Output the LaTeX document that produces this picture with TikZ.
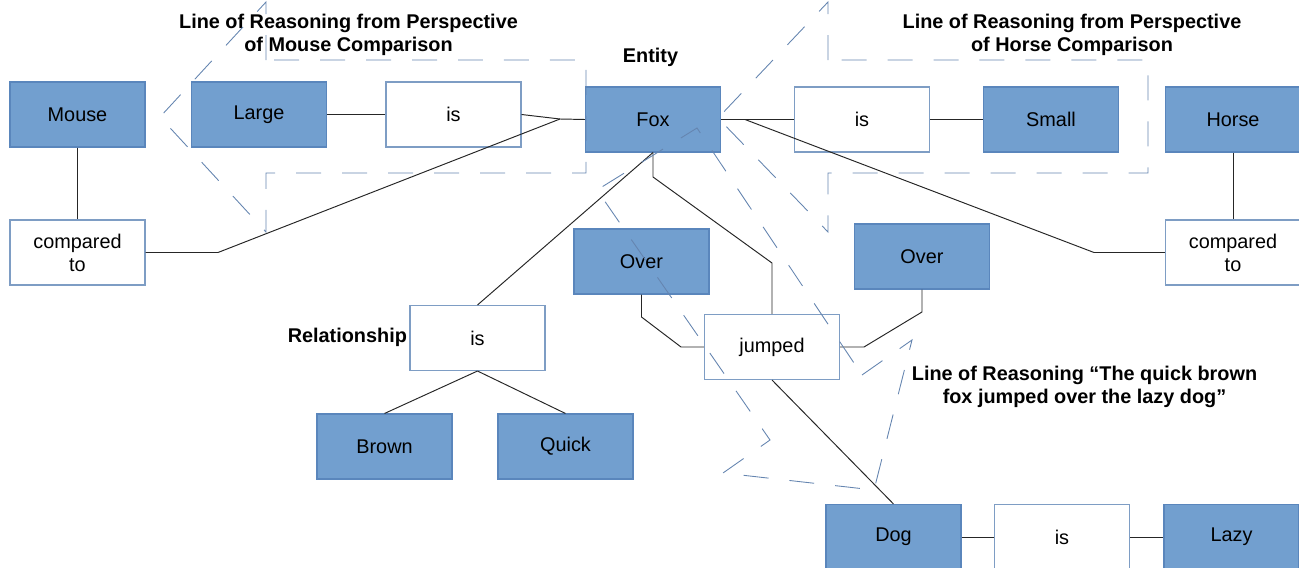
\documentclass[tikz,border=0pt]{standalone}
\usepackage{fontspec}
\setmainfont{Liberation Sans}
\usepackage{xcolor}
\usepackage{tikz}
\usetikzlibrary{positioning,calc}
\definecolor{nodeBlue}{HTML}{729FCF}
\definecolor{nodeEdge}{HTML}{5A86BC}
\definecolor{relEdge}{HTML}{7E9DC4}
\definecolor{lineDash}{HTML}{6585B0}

\begin{document}
\begin{tikzpicture}[
  x=0.02cm,
  y=-0.02cm,
  concept/.style={draw=nodeEdge, fill=nodeBlue, line width=0.6pt, inner sep=0pt,
    align=center, minimum width=2.7cm, minimum height=1.3cm, font=\fontsize{11.3}{13}\selectfont},
  relation/.style={concept, draw=relEdge, fill=white},
  heading/.style={align=center, inner sep=1pt, font=\fontsize{11.3}{13}\selectfont\bfseries},
  link/.style={line width=0.55pt, draw=black!85},
  reasoning/.style={line width=0.5pt, draw=lineDash, dash pattern=on 0.5cm off 0.42cm}
]
\useasboundingbox (0,0) rectangle (1299,568);

\node[concept] (mouse) at (77.5,114.5) {Mouse};
\node[relation] (cmpMouse) at (77.5,252.5) {compared\\to};
\node[concept] (large) at (259,114.5) {Large};
\node[relation] (isLarge) at (453.5,114.5) {is};
\node[concept] (fox) at (653,119.5) {Fox};
\node[relation] (isSmall) at (862,119.5) {is};
\node[concept] (small) at (1051,119.5) {Small};
\node[concept] (horse) at (1233,119.5) {Horse};
\node[relation] (cmpHorse) at (1233,252.5) {compared\\to};

\node[concept] (overA) at (641.5,261.5) {Over};
\node[concept] (overB) at (922,256.5) {Over};
\node[relation] (isKind) at (477.5,338) {is};
\node[relation] (jumped) at (772,347) {jumped};
\node[concept] (brown) at (384.5,446.5) {Brown};
\node[concept] (quick) at (565.5,446.5) {Quick};
\node[concept] (dog) at (893.5,537) {Dog};
\node[relation] (isLazy) at (1062,537) {is};
\node[concept] (lazy) at (1231.5,537) {Lazy};

\node[heading] (mouseView) at (348.5,34.5) {Line of Reasoning from Perspective\\of Mouse Comparison};
\node[heading] (horseView) at (1072,34.5) {Line of Reasoning from Perspective\\of Horse Comparison};
\node[heading] (entity) at (650.5,57) {Entity};
\node[heading, anchor=east] (relLabel) at (409,337) {Relationship};
\node[heading] (foxView) at (1084.5,387) {Line of Reasoning “The quick brown\\fox jumped over the lazy dog”};

% bends of the connectors
\coordinate (joinL) at (560,119);
\coordinate (bendL) at (218,252.5);
\coordinate (joinR) at (745,119.5);
\coordinate (bendR) at (1094,252.5);
\coordinate (foxDrop) at (653,177);
\coordinate (jumpTop) at (772,263);
\coordinate (overAKnee) at (641.5,317);
\coordinate (overAFoot) at (681,347);
\coordinate (overBKnee) at (922,312);
\coordinate (overBFoot) at (864,347);

\draw[link] (mouse) -- (cmpMouse);
\draw[link] (large) -- (isLarge);
\draw[link] (isLarge.east) -- (joinL) -- (fox.west);
\draw[link] (cmpMouse.east) -- (bendL) -- (joinL);
\draw[link] (fox) -- (isSmall);
\draw[link] (isSmall) -- (small);
\draw[link] (joinR) -- (bendR) -- (cmpHorse.west);
\draw[link] (horse) -- (cmpHorse);
\draw[link] (fox.south) -- (isKind.north);
\draw[link] (fox.south) -- (foxDrop) -- (jumpTop) -- (jumped.north);
\draw[link] (overA.south) -- (overAKnee) -- (overAFoot) -- (jumped.west);
\draw[link] (overB.south) -- (overBKnee) -- (overBFoot) -- (jumped.east);
\draw[link] (jumped.south) -- (dog.north);
\draw[link] (isKind.south) -- (brown.north);
\draw[link] (isKind.south) -- (quick.north);
\draw[link] (dog) -- (isLazy);
\draw[link] (isLazy) -- (lazy);

% lines of reasoning
\draw[reasoning] (266,60) -- (266,2) -- (160,117) -- (266,232) -- (266,173) -- (586,173) -- (586,60) -- cycle;
\draw[reasoning] (828,60) -- (828,2) -- (718,118) -- (828,232) -- (828,173) -- (1148,173) -- (1148,60) -- cycle;
\draw[reasoning] (862,375) -- (912,340) -- (874,490) -- (723,473) -- (770,440) -- (597,190) -- (697,128) -- cycle;
\end{tikzpicture}
\end{document}
